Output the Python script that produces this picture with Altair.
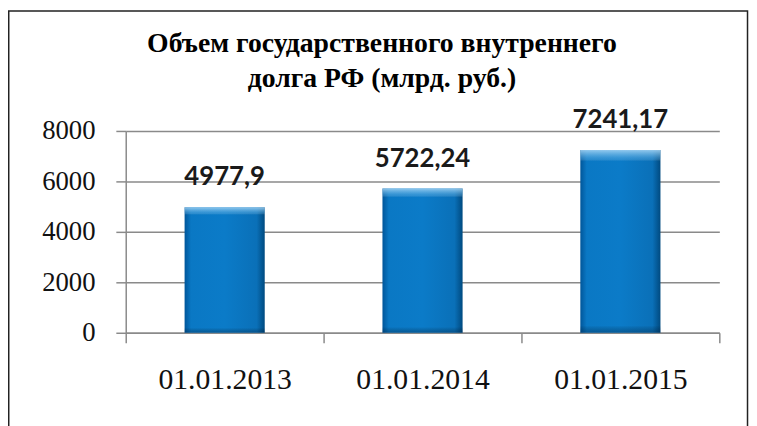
import altair as alt
import pandas as pd

categories = ["01.01.2013", "01.01.2014", "01.01.2015"]
values = [4977.9, 5722.24, 7241.17]
value_labels = ["4977,9", "5722,24", "7241,17"]
title_lines = ["Объем государственного внутреннего", "долга РФ (млрд. руб.)"]
y_ticks = [0, 2000, 4000, 6000, 8000]

df = pd.DataFrame({"date": categories, "value": values, "label": value_labels})

GRAY = "#8a8a8a"
W, H = 600, 204
SERIF = "'Liberation Serif', 'Times New Roman', 'DejaVu Serif', serif"

x = alt.X(
    "date:N", sort=categories,
    scale=alt.Scale(paddingInner=0, paddingOuter=0),
    axis=alt.Axis(
        title=None, labelAngle=0, tickBand="extent", grid=False,
        domainColor=GRAY, domainWidth=1.5, tickColor=GRAY, tickWidth=1.5, tickSize=10,
        labelFont=SERIF, labelFontSize=30, labelColor="#111111",
        labelPadding=22,
    ),
)
y = alt.Y(
    "value:Q",
    scale=alt.Scale(domain=[0, 8000], nice=False),
    axis=alt.Axis(
        values=y_ticks, format="d", title=None, grid=True, gridColor=GRAY, gridWidth=1.5,
        domainColor=GRAY, domainWidth=1.5, tickColor=GRAY, tickWidth=1.5, tickSize=10,
        labelFont=SERIF, labelFontSize=27, labelColor="#111111",
        labelPadding=21,
    ),
)

side_grad = alt.Gradient(
    gradient="linear", x1=0, x2=1, y1=0, y2=0,
    stops=[
        alt.GradientStop(color="#00569a", offset=0),
        alt.GradientStop(color="#0a78c4", offset=0.08),
        alt.GradientStop(color="#0b7bc8", offset=0.5),
        alt.GradientStop(color="#0a70b8", offset=0.9),
        alt.GradientStop(color="#004a80", offset=1),
    ],
)
top_grad = alt.Gradient(
    gradient="linear", x1=0, x2=0, y1=0, y2=1,
    stops=[
        alt.GradientStop(color="rgba(170,215,245,0.85)", offset=0),
        alt.GradientStop(color="rgba(120,190,235,0.35)", offset=0.045),
        alt.GradientStop(color="rgba(255,255,255,0)", offset=0.06),
        alt.GradientStop(color="rgba(0,0,0,0)", offset=0.96),
        alt.GradientStop(color="rgba(0,30,60,0.35)", offset=1),
    ],
)

base = alt.Chart(df)
bars = base.mark_bar(size=81, color=side_grad).encode(x=x, y=y)
bevel = base.mark_bar(size=81, color=top_grad).encode(x=alt.X("date:N", sort=categories), y="value:Q")
labels = base.mark_text(
    font="Lato", fontSize=26, fontWeight="bold", color="#1a1a1a",
    baseline="alphabetic", dy=-22,
).encode(x=alt.X("date:N", sort=categories), y="value:Q", text="label:N")

frame = alt.Chart(pd.DataFrame({"f": [0]})).mark_rect(
    fill=None, stroke="#222222", strokeWidth=1.5
).encode(
    x=alt.value(-118.25), x2=alt.value(628.5),
    y=alt.value(-121.25), y2=alt.value(330),
)

chart = alt.layer(bars, bevel, labels, frame).properties(
    width=W, height=H,
    padding={"left": 119, "top": 122, "right": 30, "bottom": 96},
    autosize=alt.AutoSizeParams(type="none"),
    title=alt.TitleParams(
        text=title_lines, font=SERIF, fontSize=28, fontWeight="bold",
        color="#000000", anchor="middle", dx=-41, offset=20, dy=104, lineHeight=36,
    ),
).configure_view(stroke=None).configure_title(font=SERIF, fontWeight="bold")

chart.save("out.html", embed_options={"renderer": "svg", "actions": False})
